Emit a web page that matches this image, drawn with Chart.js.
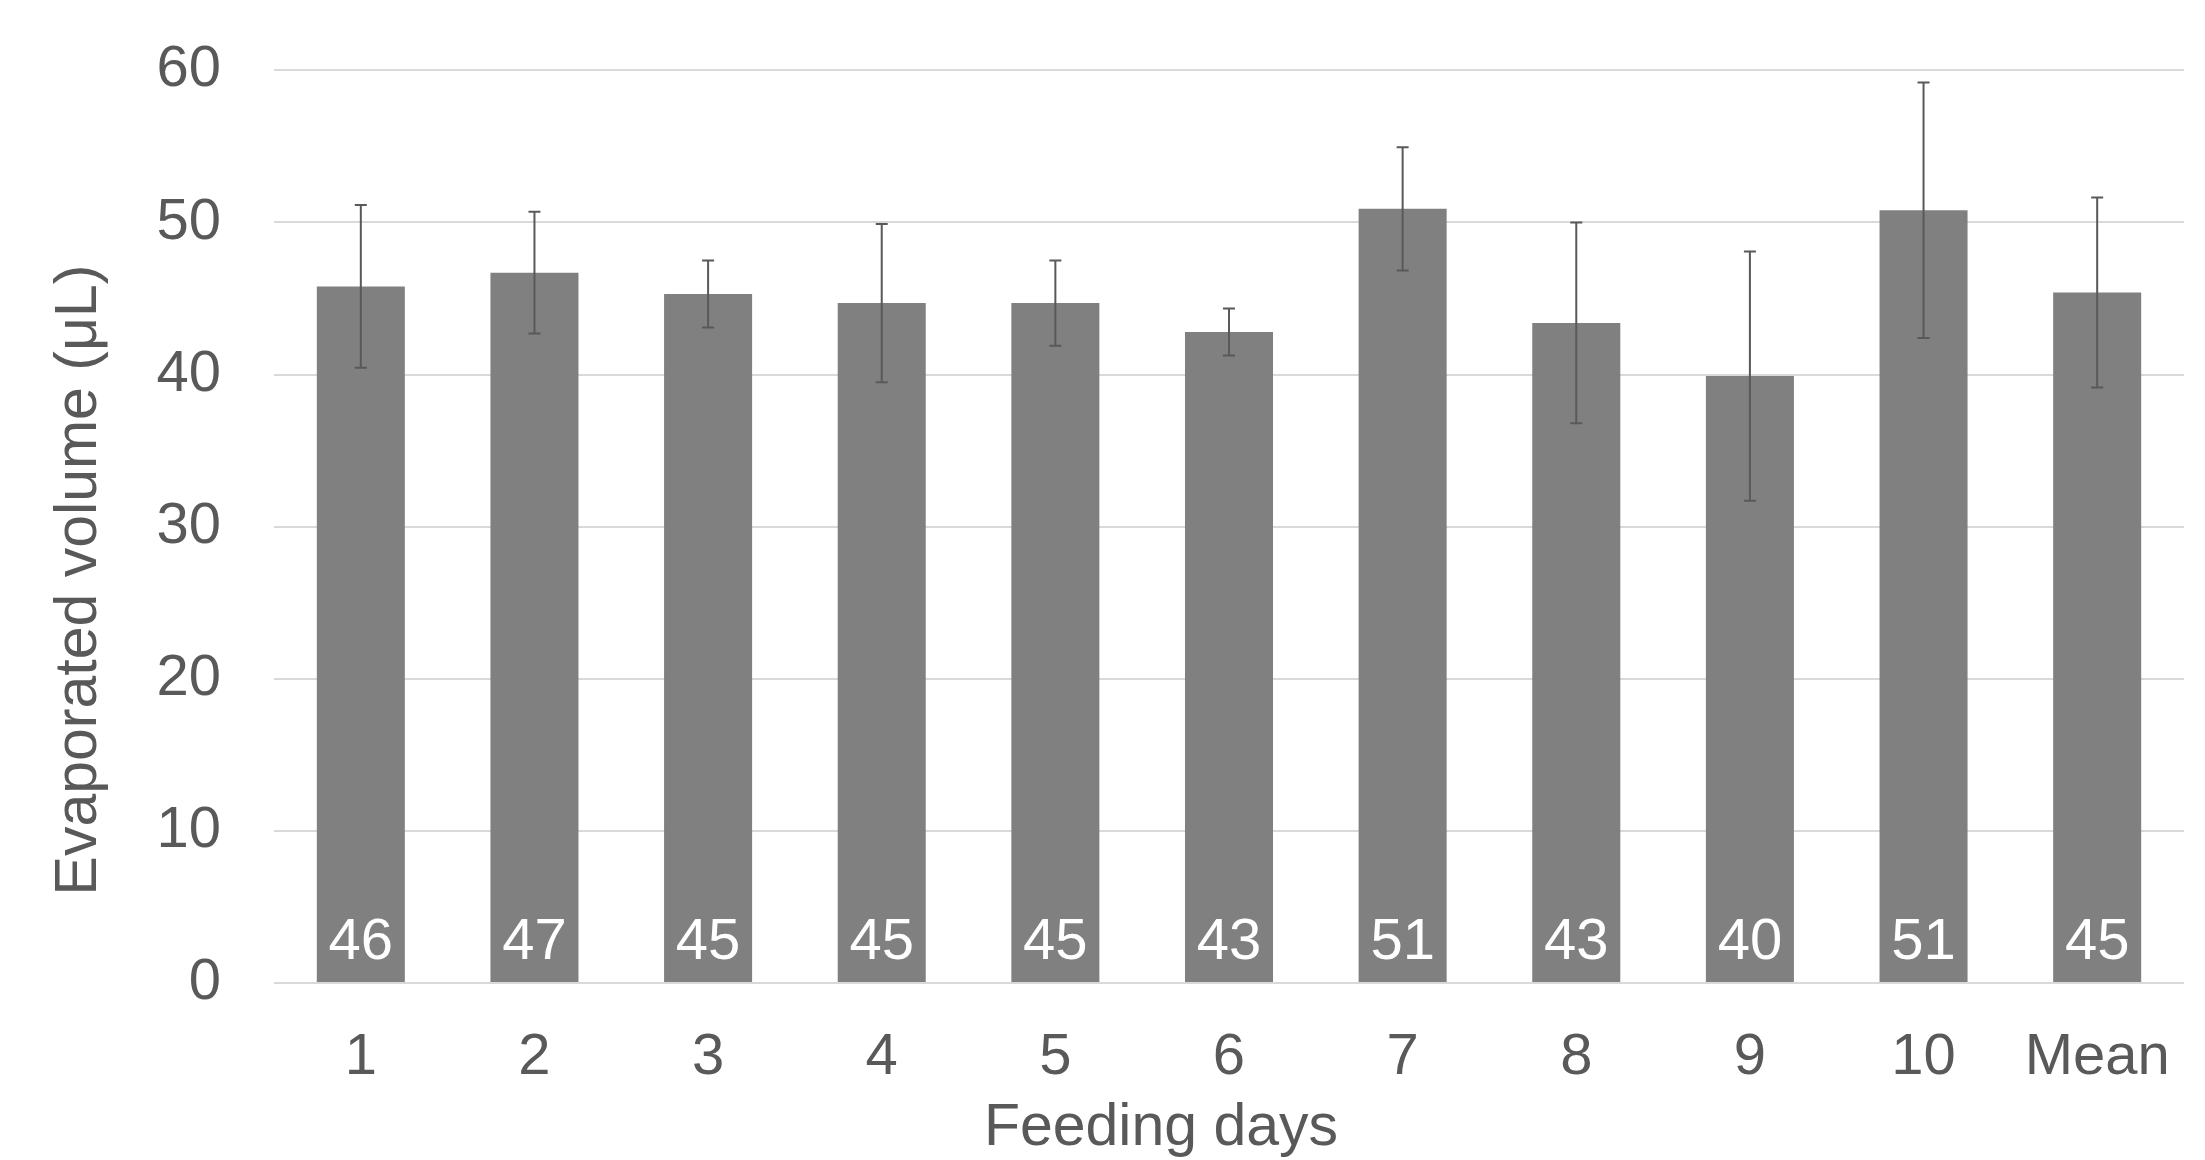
<!DOCTYPE html>
<html>
<head>
<meta charset="utf-8">
<script src="https://cdn.jsdelivr.net/npm/chart.js@4.4.1/dist/chart.umd.min.js"></script>
<style>
  html, body { margin: 0; padding: 0; background: #fff; }
  canvas { display: block; }
</style>
</head>
<body>
<canvas id="grafico" width="2205" height="1160"></canvas>
<script>
// Datos del gráfico
const dias = ["1", "2", "3", "4", "5", "6", "7", "8", "9", "10", "Mean"];
const volumen = [45.8, 46.7, 45.3, 44.7, 44.7, 42.8, 50.9, 43.4, 39.9, 50.8, 45.4];
const desviacion = [5.35, 4.0, 2.2, 5.2, 2.8, 1.55, 4.05, 6.6, 8.2, 8.4, 6.25];
const ticksY = [0, 10, 20, 30, 40, 50, 60];

const fuente = "'Liberation Sans', Arial, sans-serif";
const gris = "#595959";

// Barras de error y etiquetas blancas dentro de las barras
const barrasError = {
  id: "barrasError",
  afterDatasetsDraw(chart) {
    const ctx = chart.ctx;
    const y = chart.scales.y;
    const meta = chart.getDatasetMeta(0);
    ctx.save();
    ctx.strokeStyle = gris;
    ctx.lineWidth = 2;
    meta.data.forEach((bar, i) => {
      const arriba = y.getPixelForValue(volumen[i] + desviacion[i]);
      const abajo = y.getPixelForValue(volumen[i] - desviacion[i]);
      ctx.beginPath();
      ctx.moveTo(bar.x, arriba);
      ctx.lineTo(bar.x, abajo);
      ctx.moveTo(bar.x - 6, arriba);
      ctx.lineTo(bar.x + 6, arriba);
      ctx.moveTo(bar.x - 6, abajo);
      ctx.lineTo(bar.x + 6, abajo);
      ctx.stroke();
    });
    ctx.fillStyle = "#fff";
    ctx.font = "58px " + fuente;
    ctx.textAlign = "center";
    ctx.textBaseline = "alphabetic";
    meta.data.forEach((bar, i) => {
      ctx.fillText(String(Math.round(volumen[i])), bar.x, y.getPixelForValue(0) - 24);
    });
    ctx.restore();
  }
};

// Títulos de los ejes (colocados como en el original)
const titulosEjes = {
  id: "titulosEjes",
  afterDraw(chart) {
    const ctx = chart.ctx;
    ctx.save();
    ctx.fillStyle = gris;
    ctx.font = "59px " + fuente;
    ctx.textAlign = "center";
    ctx.textBaseline = "middle";
    ctx.fillText("Feeding days", 1161, 1129);
    ctx.translate(80, 580);
    ctx.rotate(-Math.PI / 2);
    ctx.fillText("Evaporated volume (μL)", 0, 0);
    ctx.restore();
  }
};

const canvas = document.getElementById("grafico").getContext("2d");

new Chart(canvas, {
  type: "bar",
  data: {
    labels: dias,
    datasets: [{
      label: "Evaporated volume",
      data: volumen,
      backgroundColor: "#808080",
      borderWidth: 0,
      barPercentage: 0.507,
      categoryPercentage: 1
    }]
  },
  options: {
    responsive: false,
    animation: false,
    devicePixelRatio: 1,
    layout: { padding: { top: 63, right: 21, left: 0, bottom: 0 } },
    plugins: {
      legend: { display: false },
      tooltip: { enabled: false }
    },
    scales: {
      x: {
        grid: { display: false },
        border: { display: false },
        ticks: { color: gris, font: { family: fuente, size: 58 }, padding: 32, maxRotation: 0 },
        afterFit: scale => { scale.height = 177; }
      },
      y: {
        min: ticksY[0],
        max: ticksY[ticksY.length - 1],
        grid: { color: "#d9d9d9", lineWidth: 2, drawTicks: false },
        border: { display: false },
        ticks: { color: gris, font: { family: fuente, size: 58, lineHeight: 0.6 }, padding: 53 },
        afterBuildTicks: scale => { scale.ticks = ticksY.map(v => ({ value: v })); },
        afterFit: scale => { scale.width = 274; }
      }
    }
  },
  plugins: [barrasError, titulosEjes]
});
</script>
</body>
</html>
